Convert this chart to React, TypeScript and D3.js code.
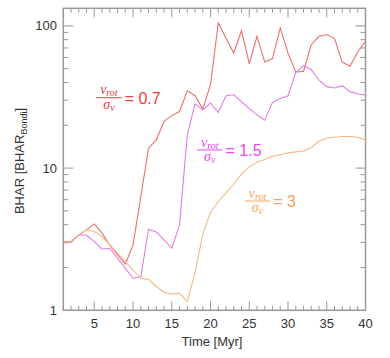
import { useEffect, useRef } from "react";
import * as d3 from "d3";

const times = [
  1, 2, 3, 4, 5, 6, 7, 8, 9, 10, 11, 12, 13, 14, 15, 16, 17, 18, 19, 20,
  21, 22, 23, 24, 25, 26, 27, 28, 29, 30, 31, 32, 33, 34, 35, 36, 37, 38, 39, 40,
];

// v_rot / sigma_v = 0.7
const bharLow = [
  3.03, 3.04, 3.37, 3.68, 4.05, 3.49, 2.87, 2.45, 2.11, 2.88, 6.3, 13.8, 15.8, 21.3,
  23.4, 25, 35, 32.3, 26, 38.6, 105, 82, 64.5, 92.7, 54, 84.5, 55.7, 58.9, 96.8, 64.5,
  47.4, 47.9, 73.8, 84.5, 86.9, 81.4, 55.7, 52, 65.6, 78,
];

// v_rot / sigma_v = 1.5
const bharMid = [
  2.98, 3.0, 3.4, 3.37, 3.04, 2.7, 2.73, 2.32, 1.98, 1.68, 1.72, 3.72, 3.56, 3.13,
  2.73, 3.99, 17.2, 28.3, 25.7, 28.7, 24.6, 32.3, 32.8, 29.3, 26.2, 23.7, 21.7, 29,
  30.9, 32.3, 46.9, 52.5, 49.2, 41.5, 37.4, 36.6, 38, 34.5, 33.3, 32.5,
];

// v_rot / sigma_v = 3
const bharHigh = [
  3.0, 3.05, 3.39, 3.68, 3.58, 3.3, 2.88, 2.52, 2.2, 1.92, 1.68, 1.65, 1.47, 1.34,
  1.3, 1.32, 1.15, 1.85, 3.4, 4.9, 5.8, 6.7, 7.7, 9.1, 10.2, 11.0, 11.5, 12.1, 12.4,
  12.8, 13.0, 13.2, 13.9, 15.5, 16.2, 16.5, 16.7, 16.7, 16.5, 15.8,
];

const ratioLabels = ["0.7", "1.5", "3"];
const yTickLabels = [1, 10, 100];

export default function App() {
  const ref = useRef<SVGSVGElement | null>(null);

  useEffect(() => {
    const svg = d3.select(ref.current);
    svg.selectAll("*").remove();

    const left = 63.3, right = 365.5, top = 8.3, bottom = 310.3;
    const x = d3.scaleLinear().domain([1, 40]).range([left, right]);
    const y = d3.scaleLog().domain([1, 133]).range([bottom, top]);

    const axisColor = "#999";
    const textColor = "#333";
    const sans = "'Liberation Sans', Arial, sans-serif";

    // frame
    svg.append("rect")
      .attr("x", left).attr("y", top)
      .attr("width", right - left).attr("height", bottom - top)
      .attr("fill", "none").attr("stroke", axisColor).attr("stroke-width", 1.5);

    // x ticks (bottom and top, pointing inward)
    const xTicks = d3.range(1, 41);
    xTicks.forEach((t) => {
      const major = t % 5 === 0;
      const len = major ? 9 : 4.5;
      const xp = x(t);
      svg.append("line").attr("x1", xp).attr("x2", xp)
        .attr("y1", bottom).attr("y2", bottom - len)
        .attr("stroke", axisColor).attr("stroke-width", 1);
      svg.append("line").attr("x1", xp).attr("x2", xp)
        .attr("y1", top).attr("y2", top + len)
        .attr("stroke", axisColor).attr("stroke-width", 1);
      if (major) {
        svg.append("text").attr("x", xp).attr("y", 328)
          .attr("text-anchor", "middle").attr("font-family", sans)
          .attr("font-size", 13).attr("fill", textColor).text(t);
      }
    });

    // y ticks (log)
    const yTicks: number[] = [];
    [1, 10, 100].forEach((d) => {
      for (let m = 1; m <= 9; m++) {
        const v = d * m;
        if (v <= 133) yTicks.push(v);
      }
    });
    yTicks.forEach((v) => {
      const major = yTickLabels.includes(v);
      const len = major ? 10 : 5;
      const yp = y(v);
      svg.append("line").attr("x1", left).attr("x2", left + len)
        .attr("y1", yp).attr("y2", yp)
        .attr("stroke", axisColor).attr("stroke-width", 1);
      svg.append("line").attr("x1", right).attr("x2", right - len)
        .attr("y1", yp).attr("y2", yp)
        .attr("stroke", axisColor).attr("stroke-width", 1);
    });
    yTickLabels.forEach((v) => {
      svg.append("text").attr("x", 57).attr("y", y(v) + 4.5)
        .attr("text-anchor", "end").attr("font-family", sans)
        .attr("font-size", 13).attr("fill", textColor).text(v);
    });

    // axis titles
    svg.append("text").attr("x", 212).attr("y", 346)
      .attr("text-anchor", "middle").attr("font-family", sans)
      .attr("font-size", 13).attr("fill", textColor).text("Time [Myr]");

    const yl = svg.append("text")
      .attr("transform", "translate(24,161) rotate(-90)")
      .attr("text-anchor", "middle").attr("font-family", sans)
      .attr("font-size", 13).attr("fill", textColor);
    yl.append("tspan").text("BHAR [BHAR");
    yl.append("tspan").attr("font-size", 9).attr("dy", 3).text("Bondi");
    yl.append("tspan").attr("dy", -3).text("]");

    // lines
    const series = [
      { values: bharLow, color: "#e8736f" },
      { values: bharMid, color: "#e07de6" },
      { values: bharHigh, color: "#f0bb85" },
    ];
    const line = d3.line<number>()
      .x((_, i) => x(times[i]))
      .y((d) => y(d));
    series.forEach((s) => {
      svg.append("path").datum(s.values)
        .attr("d", line)
        .attr("fill", "none")
        .attr("stroke", s.color)
        .attr("stroke-width", 1.1);
    });

    // ratio labels
    const serif = "'Liberation Serif', 'Times New Roman', serif";
    const labels = [
      { text: ratioLabels[0], cx: 108.9, by: 97.7, color: "#f03c3c" },
      { text: ratioLabels[1], cx: 209.8, by: 150, color: "#ee44ee" },
      { text: ratioLabels[2], cx: 257.5, by: 201, color: "#f5a55a" },
    ];
    labels.forEach((l) => {
      const w = 25.5;
      const g = svg.append("g").attr("fill", l.color);
      const num = g.append("text").attr("x", l.cx).attr("y", l.by - 3.5)
        .attr("text-anchor", "middle").attr("font-family", serif)
        .attr("font-style", "italic").attr("font-size", 14);
      num.append("tspan").text("v");
      num.append("tspan").attr("font-size", 10).attr("dy", 2).text("rot");
      g.append("line")
        .attr("x1", l.cx - w / 2).attr("x2", l.cx + w / 2)
        .attr("y1", l.by).attr("y2", l.by)
        .attr("stroke", l.color).attr("stroke-width", 1);
      const den = g.append("text").attr("x", l.cx).attr("y", l.by + 11)
        .attr("text-anchor", "middle").attr("font-family", serif)
        .attr("font-style", "italic").attr("font-size", 14);
      den.append("tspan").text("σ");
      den.append("tspan").attr("font-size", 10).attr("dy", 2).text("v");
      g.append("text").attr("x", l.cx + w / 2 + 3).attr("y", l.by + 6)
        .attr("font-family", sans).attr("font-size", 16)
        .text(`= ${l.text}`);
    });
  }, []);

  return (
    <svg
      ref={ref}
      width={390}
      height={358}
      style={{ position: "absolute", left: 0, top: 0, background: "#fff" }}
    />
  );
}
